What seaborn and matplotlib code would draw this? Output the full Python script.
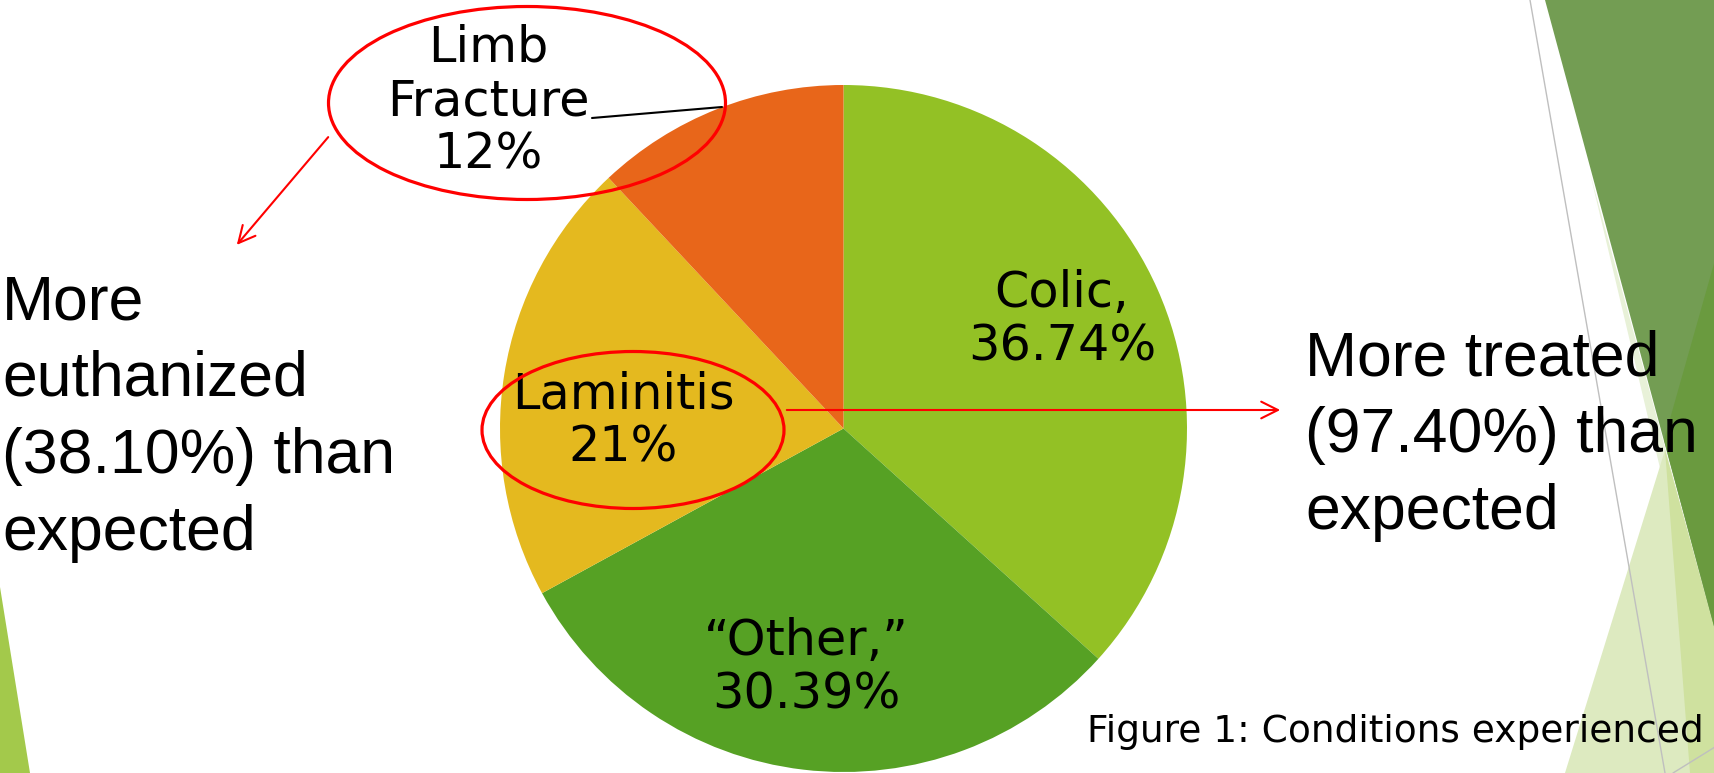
import matplotlib
matplotlib.use("Agg")
import matplotlib.pyplot as plt
import seaborn as sns
from matplotlib.patches import Ellipse, Polygon

# ---- data ----
conditions = ["Colic", "\u201cOther\u201d", "Laminitis", "Limb Fracture"]
shares = [36.74, 30.39, 21.0, 12.0]
slice_labels = ["Colic,\n36.74%", "\u201cOther,\u201d\n30.39%", "Laminitis\n21%", "Limb\nFracture\n12%"]
slice_colors = ["#93C125", "#56A124", "#E4B91F", "#E8661A"]
left_note = ["More", "euthanized", "(38.10%) than", "expected"]
right_note = ["More treated", "(97.40%) than", "expected"]
caption = "Figure 1: Conditions experienced"

W, H = 1715, 773
sns.set_theme(style="white")
plt.rcParams['font.family'] = ['DejaVu Sans']

fig = plt.figure(figsize=(W / 100, H / 100), dpi=100)
ax = fig.add_axes([0, 0, 1, 1])

def Y(y):
    return H - y

# ---- background decorations ----
def poly(pts, color, z=0):
    ax.add_patch(Polygon([(x, Y(y)) for x, y in pts], closed=True,
                         facecolor=color, edgecolor="none", zorder=z))

poly([(0, 587), (30, 773), (0, 773)], "#A3C94B")
poly([(1590, 173), (1715, 700), (1715, 630)], "#E8F1D8")
poly([(1665, 450), (1565, 773), (1715, 773), (1715, 630)], "#DDEAC0")
poly([(1665, 450), (1690, 773), (1715, 773), (1715, 630)], "#CFE19F")
poly([(1545, 0), (1715, 0), (1715, 630)], "#739D53")
poly([(1715, 260), (1664, 440), (1715, 630)], "#6A9A3F")
ax.plot([1530, 1665], [Y(0), Y(773)], color="#BFBFBF", lw=1.0, zorder=0.5)
ax.plot([1673, 1715], [Y(773), Y(747)], color="#BFBFBF", lw=1.0, zorder=0.5)

# ---- pie ----
cx, cy, r = 843.5, 428.5, 343.5
wedges, _ = ax.pie(shares, colors=slice_colors, startangle=90, counterclock=False,
                   center=(cx, Y(cy)), radius=r, frame=True,
                   wedgeprops=dict(linewidth=0, zorder=1))

lab_pos = [(1062, 320), (806, 668), (623, 421), (488, 101)]
for (x, y), t in zip(lab_pos, slice_labels):
    ax.text(x, Y(y), t, ha="center", va="center", fontsize=35.5,
            family="DejaVu Sans", color="black", linespacing=1.15, zorder=3)

# leader line for limb fracture
ax.plot([592, 722], [Y(118), Y(107)], color="black", lw=1.5, zorder=3)

# ---- red ellipses and arrows ----
ax.add_patch(Ellipse((527, Y(103)), 397, 193, fill=False, edgecolor="#FF0000", lw=2.3, zorder=4))
ax.add_patch(Ellipse((633, Y(430)), 302, 157, fill=False, edgecolor="#FF0000", lw=2.3, zorder=4))
ax.annotate("", xy=(235, Y(247)), xytext=(330, Y(135)),
            arrowprops=dict(arrowstyle="->", color="#FF0000", lw=1.5, mutation_scale=30), zorder=4)
ax.annotate("", xy=(1283, Y(410)), xytext=(784, Y(410)),
            arrowprops=dict(arrowstyle="->", color="#FF0000", lw=1.5, mutation_scale=30), zorder=4)

# ---- notes ----
for i, line in enumerate(left_note):
    ax.text(2, Y(319 + 77 * i), line, ha="left", va="baseline", fontsize=45,
            family="Liberation Sans", color="black", zorder=5)
for i, line in enumerate(right_note):
    ax.text(1305, Y(375 + 77 * i), line, ha="left", va="baseline", fontsize=45,
            family="Liberation Sans", color="black", zorder=5)

ax.text(1087, Y(742), caption, ha="left", va="baseline", fontsize=27,
        family="DejaVu Sans", color="black", zorder=5)

ax.set_xlim(0, W)
ax.set_ylim(0, H)
ax.set_aspect("auto")
ax.axis("off")
fig.savefig("out.png", dpi=100, facecolor="white")
